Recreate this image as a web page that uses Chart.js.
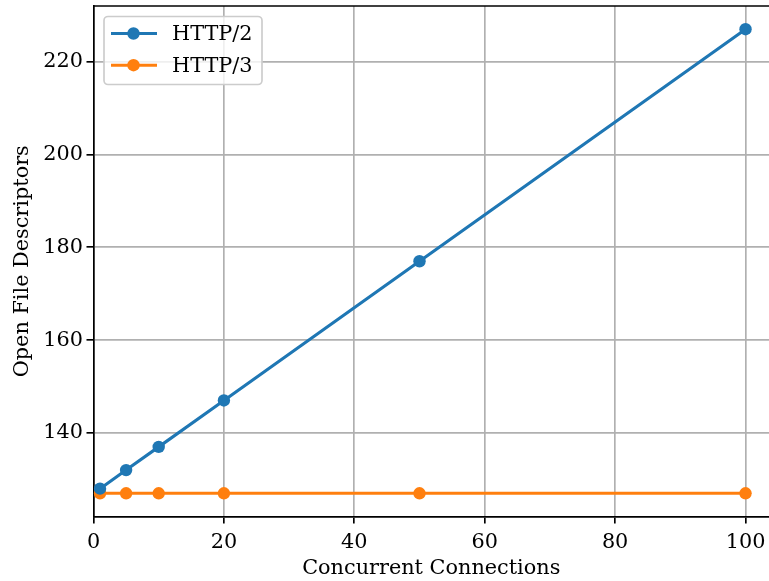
<!DOCTYPE html>
<html>
<head>
<meta charset="utf-8">
<script src="https://cdn.jsdelivr.net/npm/chart.js@4.4.0/dist/chart.umd.min.js"></script>
<style>
  html, body { margin: 0; padding: 0; background: #fff; overflow: hidden; }
  canvas { display: block; }
</style>
</head>
<body>
<canvas id="fdChart" width="769" height="581"></canvas>
<script>
// Data
const connections = [1, 5, 10, 20, 50, 100];
const http2Fds = [128, 132, 137, 147, 177, 227];
const http3Fds = [127, 127, 127, 127, 127, 127];
const xTicks = [0, 20, 40, 60, 80, 100];
const yTicks = [140, 160, 180, 200, 220];

const FONT = "'DejaVu Serif', 'Liberation Serif', serif";
const FONT_SIZE = 20.8;

// Top spine plus a matplotlib-style legend drawn inside the plot area
const innerLegend = {
    id: 'innerLegend',
    afterDatasetsDraw(chart) {
        const ctx = chart.ctx;
        const area = chart.chartArea;
        ctx.save();
        ctx.strokeStyle = '#000';
        ctx.lineWidth = 1.67;
        ctx.beginPath();
        ctx.moveTo(area.left, area.top);
        ctx.lineTo(area.right, area.top);
        ctx.stroke();

        const bx = area.left + 10.5, by = area.top + 10.5;
        const bw = 158, bh = 68;
        ctx.beginPath();
        ctx.roundRect(bx, by, bw, bh, 4);
        ctx.fillStyle = 'rgba(255,255,255,0.8)';
        ctx.fill();
        ctx.strokeStyle = '#cccccc';
        ctx.lineWidth = 1.67;
        ctx.stroke();

        ctx.font = FONT_SIZE + 'px ' + FONT;
        ctx.textBaseline = 'middle';
        chart.data.datasets.forEach((ds, i) => {
            const y = by + 17 + i * 31.7;
            ctx.strokeStyle = ds.borderColor;
            ctx.lineWidth = 3.1;
            ctx.beginPath();
            ctx.moveTo(bx + 7, y);
            ctx.lineTo(bx + 53, y);
            ctx.stroke();
            ctx.fillStyle = ds.backgroundColor;
            ctx.beginPath();
            ctx.arc(bx + 29.5, y, 6.2, 0, Math.PI * 2);
            ctx.fill();
            ctx.fillStyle = '#000';
            ctx.fillText(ds.label, bx + 68, y + 1);
        });
        ctx.restore();
    }
};

const ctx = document.getElementById('fdChart').getContext('2d');
const fdChart = new Chart(ctx, {
    type: 'line',
    data: {
        datasets: [{
            label: 'HTTP/2',
            data: connections.map((c, i) => ({ x: c, y: http2Fds[i] })),
            borderColor: '#1f77b4',
            backgroundColor: '#1f77b4',
            borderWidth: 3.1,
            pointRadius: 6.2,
            pointBorderWidth: 0,
            tension: 0
        }, {
            label: 'HTTP/3',
            data: connections.map((c, i) => ({ x: c, y: http3Fds[i] })),
            borderColor: '#ff7f0e',
            backgroundColor: '#ff7f0e',
            borderWidth: 3.1,
            pointRadius: 6.2,
            pointBorderWidth: 0,
            tension: 0
        }]
    },
    options: {
        responsive: false,
        animation: false,
        layout: { autoPadding: false, padding: { top: 6, right: 0, bottom: 0, left: 0 } },
        plugins: {
            legend: { display: false },
            tooltip: { enabled: false }
        },
        scales: {
            x: {
                type: 'linear',
                min: 0,
                max: 103.6,
                afterBuildTicks: scale => { scale.ticks = xTicks.map(v => ({ value: v })); },
                afterFit: scale => {
                    scale.height = 64.5;
                    scale.paddingLeft = 0;
                    scale.paddingRight = 0;
                },
                ticks: {
                    color: '#000',
                    font: { family: FONT, size: FONT_SIZE },
                    padding: 6.5,
                    maxRotation: 0,
                    autoSkip: false,
                    callback: v => String(v)
                },
                grid: {
                    color: '#b0b0b0',
                    lineWidth: 1.67,
                    tickLength: 7,
                    tickColor: '#000',
                    tickWidth: 1.67
                },
                border: { color: '#000', width: 1.67 },
                title: {
                    display: true,
                    text: 'Concurrent Connections',
                    color: '#000',
                    font: { family: FONT, size: FONT_SIZE },
                    padding: { top: 0, bottom: 0 }
                }
            },
            y: {
                type: 'linear',
                min: 122,
                max: 232,
                afterBuildTicks: scale => { scale.ticks = yTicks.map(v => ({ value: v })); },
                afterFit: scale => {
                    scale.width = 93.5;
                    scale.paddingTop = 0;
                    scale.paddingBottom = 0;
                },
                ticks: {
                    color: '#000',
                    font: { family: FONT, size: FONT_SIZE },
                    padding: 3.5,
                    autoSkip: false,
                    callback: v => String(v)
                },
                grid: {
                    color: '#b0b0b0',
                    lineWidth: 1.67,
                    tickLength: 7,
                    tickColor: '#000',
                    tickWidth: 1.67
                },
                border: { color: '#000', width: 1.67 },
                title: {
                    display: true,
                    text: 'Open File Descriptors',
                    color: '#000',
                    font: { family: FONT, size: FONT_SIZE },
                    padding: { top: 10, bottom: 0 }
                }
            }
        }
    },
    plugins: [innerLegend]
});
</script>
</body>
</html>
